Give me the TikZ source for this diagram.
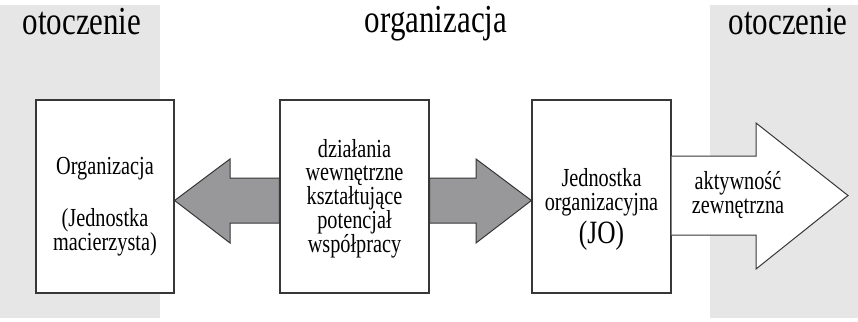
\documentclass[tikz,border=0pt]{standalone}
\usepackage{fontspec}
\setmainfont{Liberation Serif}
\newfontfamily\tallserif[FakeStretch=0.78]{Liberation Serif}
\usepackage{tikz}
\definecolor{band_gray}{RGB}{230,230,231}
\definecolor{arrow_gray}{RGB}{152,152,154}
\definecolor{edge_gray}{RGB}{55,55,55}
\newcommand\headfont{\tallserif\fontsize{39.7}{44}\selectfont}
\newcommand\boxfont{\tallserif\fontsize{26}{23.75}\selectfont}
\newcommand\bigbox{\tallserif\fontsize{32.5}{29}\selectfont}

\begin{document}
\begin{tikzpicture}[x=1pt,y=-1pt,line join=miter]
    \tikzstyle{band}=[fill=band_gray, draw=none]
    \tikzstyle{head}=[anchor=base, font=\headfont, inner sep=0pt]
    \tikzstyle{unit}=[draw=edge_gray, line width=1.2pt, fill=white, minimum height=193pt, inner sep=0pt]
    \tikzstyle{txt}=[align=center, font=\boxfont, inner sep=0pt]
    \tikzstyle{grayarrow}=[draw=edge_gray, line width=1pt, fill=arrow_gray]
    \tikzstyle{whitearrow}=[draw=edge_gray, line width=1pt, fill=white]

    \useasboundingbox (0,0) rectangle (858,321);
    \fill[band] (0,5) rectangle (160,318);
    \fill[band] (710,5) rectangle (858,318);

    \node[head] (envl) at (82,35)  {otoczenie};
    \node[head] (orgh) at (436,33) {organizacja};
    \node[head] (envr) at (788,35) {otoczenie};

    % boxes
    \node[unit, minimum width=138pt] (org) at (105,196.5) {};
    \node[unit, minimum width=149pt] (mid) at (354.5,196.5) {};
    \node[unit, minimum width=139pt] (jo)  at (601.5,196.5) {};

    \node[txt] (orgtxt) at ([yshift=-10pt]org.center) {Organizacja\\[29pt](Jednostka\\macierzysta)};
    \node[txt] (midtxt) at ([yshift=-2pt]mid.center) {działania\\wewnętrzne\\kształtujące\\potencjał\\współpracy};
    \node[txt] (jotxt)  at ([yshift=-13pt]jo.center) {Jednostka\\organizacyjna\\[4pt]{\bigbox(JO)}};

    % arrows
    \draw[grayarrow] (mid.west |- 0,178) -- (230,178) -- (230,159) -- (org.east |- 0,200.5)
        -- (230,243) -- (230,223) -- (mid.west |- 0,223) -- cycle;
    \draw[grayarrow] (mid.east |- 0,178) -- (476,178) -- (476,159) -- (jo.west |- 0,200.5)
        -- (476,243) -- (476,223) -- (mid.east |- 0,223) -- cycle;
    \coordinate (tip) at (848,195.5);
    \draw[whitearrow] (jo.east |- 0,156) -- (756,156) -- (756,123) -- (tip)
        -- (756,269) -- (756,235) -- (jo.east |- 0,235);

    \node[txt] (akt) at (738,195) {aktywność\\zewnętrzna};
\end{tikzpicture}
\end{document}
